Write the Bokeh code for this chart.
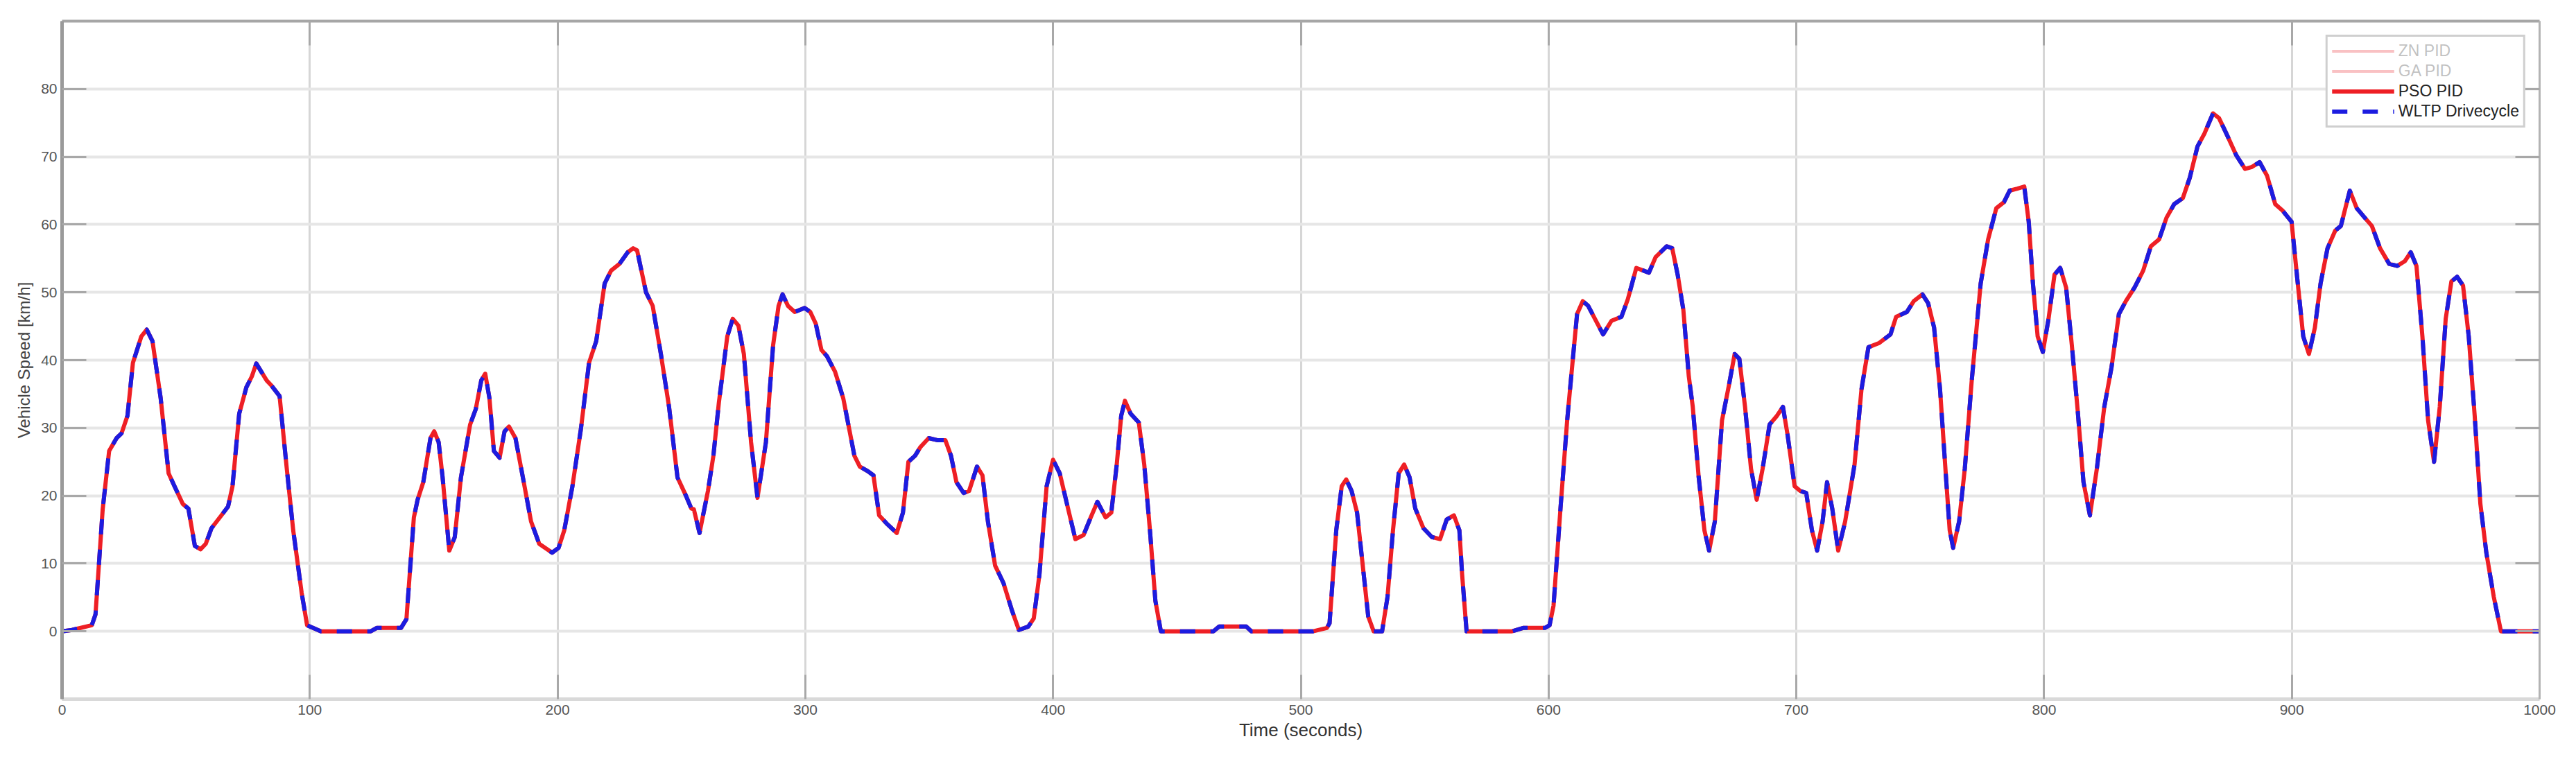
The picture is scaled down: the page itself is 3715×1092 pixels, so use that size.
from bokeh.plotting import figure
from bokeh.models import (ColumnDataSource, LinearAxis, FixedTicker, Range1d,
                          Legend, LegendItem)
from bokeh.embed import file_html
from bokeh.resources import INLINE

# ---------------- data ----------------
x_ticks = list(range(0, 1001, 100))
y_ticks = list(range(0, 81, 10))
series_names = ["ZN PID", "GA PID", "PSO PID", "WLTP Drivecycle"]

time_s = [
    0, 4, 12, 13.5, 16.4, 19, 22, 24, 26.4, 28.6, 32, 34.2, 36.5, 39.8, 43, 45.4, 48.7, 51,
    53.6, 55.9, 58, 60.3, 64.3, 67, 68.8, 71.5, 74.4, 76.6, 78.4, 80.4, 82.6, 84.4, 87.8,
    90.7, 93.3, 96.7, 98.9, 104.5, 124.6, 127, 136.8, 139, 142, 143.5, 145.8, 148.7, 150.2,
    152, 153.6, 156.3, 158.5, 161, 164.7, 167, 169.2, 170.8, 172.5, 174.3, 176.6, 178.6,
    180.4, 183, 186, 189.3, 192.6, 197.8, 200.4, 202.7, 206, 209.4, 212.7, 215.6, 219,
    221.6, 225, 228.3, 230.5, 232.1, 235.7, 238.4, 241.7, 245, 248.4, 251.7, 254, 255,
    257.3, 260.7, 262.9, 265.1, 268.5, 270.7, 273, 275.2, 278.1, 280.7, 284.1, 287, 289.2,
    290.8, 293, 295.7, 299.7, 302, 304.2, 306.5, 308.7, 312, 315.3, 319.8, 322, 325.3,
    327.5, 329.8, 333.1, 336.9, 339.4, 341.6, 344.3, 346.5, 349.8, 353.2, 356.5, 358.8,
    361, 363.9, 366.1, 369.3, 371.5, 373.7, 376.6, 380, 383.3, 386.2, 390, 392.2, 394.5,
    397.4, 400, 402.7, 405.6, 409, 412.3, 415.2, 417.9, 421.2, 423.5, 425.7, 427.5, 429,
    431.3, 434.6, 436.8, 439.1, 441.3, 443.5, 464.7, 467, 478, 480, 505, 510.5, 511.6,
    514.3, 516.5, 518.3, 520.5, 522.7, 525, 527.2, 529.4, 532.8, 535, 537.2, 539.5, 541.7,
    543.9, 546.2, 549.5, 552.9, 556.2, 558.9, 561.8, 564, 565.1, 566.9, 585.2, 589.7,
    598.6, 600.4, 602, 604.8, 607.5, 609.8, 611.5, 613.8, 616, 618.7, 622, 625.4, 629.4,
    632, 635.4, 638.3, 640.5, 643.2, 647.7, 649.9, 652.1, 654.4, 656.6, 658.2, 660.6,
    662.9, 664.8, 667.1, 670, 672.8, 675.1, 677, 679.3, 681.7, 684, 686.4, 689.2, 692.2,
    694.6, 696.5, 699.3, 701.6, 704, 706.3, 708.4, 710.6, 712.4, 714.5, 716.9, 719.7,
    723.5, 726.3, 729.1, 733.3, 738, 740.3, 744.6, 747.4, 750.9, 753.2, 755.6, 758, 760.3,
    761.9, 763.3, 765.7, 768, 770.8, 774.4, 777.4, 780.7, 783.8, 786.1, 789.2, 792, 793.8,
    795.5, 797.4, 799.5, 801.8, 804.2, 806.5, 808.9, 811.2, 813.6, 815.9, 818.5, 821.3,
    824.3, 827.2, 830.2, 833, 836.5, 840, 843.1, 846.4, 849.4, 852.5, 856, 858.8, 861.9,
    864.7, 868.2, 870.6, 873.6, 877.6, 881.1, 883.9, 887, 890, 893.3, 896.4, 899.9, 902.2,
    904.6, 906.9, 909.3, 911.6, 914.4, 917.5, 919.8, 923.4, 926.2, 929.2, 932.3, 935.6,
    939.3, 942.6, 945.6, 948, 950.3, 952.7, 955, 957.4, 959.7, 962.1, 964.4, 966.7, 969.1,
    971.4, 973.8, 976.1, 978.5, 981.5, 984.4, 1000,
]

wltp_kmh = [
    0, 0.2, 0.9, 2.5, 18, 26.6, 28.5, 29.2, 31.8, 39.6, 43.5, 44.5, 42.8, 34.4, 23.3, 21.4,
    18.8, 18.1, 12.6, 12.1, 12.9, 15.2, 17.1, 18.4, 21.4, 32.1, 36, 37.6, 39.5, 38.3, 37,
    36.3, 34.7, 24, 14.9, 5.7, 0.9, 0, 0, 0.5, 0.5, 1.8, 16.8, 19.4, 22, 28.5, 29.5, 27.9,
    22.7, 11.9, 13.9, 22.7, 30.5, 32.8, 37, 38, 34.4, 26.6, 25.6, 29.5, 30.2, 28.5, 22.7,
    16.2, 12.9, 11.6, 12.3, 14.9, 21.4, 29.8, 39.6, 42.8, 51.3, 53.2, 54.2, 55.9, 56.5,
    56.2, 50, 48, 40.9, 33.1, 22.7, 20.1, 18.1, 18, 14.5, 20.7, 25.9, 33.7, 43.5, 46.1,
    45.1, 40.9, 27.9, 19.7, 27.9, 42.2, 48, 49.7, 48, 47.1, 47.7, 47.1, 45.4, 41.5, 40.6,
    38.3, 34.4, 25.9, 24.3, 23.6, 23, 17.1, 15.8, 14.5, 17.5, 25, 25.9, 27.2, 28.5, 28.2,
    28.2, 25.9, 22, 20.4, 20.7, 24.3, 23, 16.2, 9.7, 7.1, 3.2, 0.2, 0.7, 1.9, 8.4, 21.4,
    25.3, 23.3, 18.8, 13.6, 14.2, 16.8, 19.1, 16.8, 17.5, 24.6, 31.8, 34, 32.1, 30.8, 24.6,
    14.9, 4.5, 0, 0, 0.7, 0.7, 0, 0, 0.5, 1.2, 14.9, 21.4, 22.4, 20.7, 17.5, 9.7, 2.2, 0,
    0, 5.1, 14.9, 23.3, 24.6, 22.7, 18.1, 15.2, 13.9, 13.6, 16.5, 17.1, 14.9, 8.4, 0, 0,
    0.5, 0.5, 0.9, 3.8, 18.1, 31.1, 40.2, 46.8, 48.7, 48, 46.1, 43.8, 45.8, 46.4, 49, 53.6,
    53.2, 52.9, 55.2, 56.8, 56.5, 52.6, 47.4, 37.6, 33.1, 22.7, 14.9, 11.9, 16.2, 31.1,
    36.3, 40.9, 40.2, 33.1, 24, 19.4, 24, 30.5, 31.8, 33.1, 28.9, 21.4, 20.7, 20.4, 14.9,
    11.9, 16.2, 22, 18.1, 11.9, 16.2, 24.6, 35.7, 41.9, 42.5, 43.8, 46.4, 47.1, 48.7, 49.7,
    48.4, 44.8, 35.7, 23.3, 14.9, 12.3, 16.2, 24, 37, 51.3, 57.8, 62.4, 63.3, 65, 65.3,
    65.6, 60.4, 51.3, 43.5, 41.2, 46.1, 52.6, 53.6, 50.7, 42.2, 32.4, 22, 17.1, 24, 33.1,
    38.9, 46.8, 48.7, 50.7, 53.2, 56.8, 57.8, 61, 63, 63.9, 66.9, 71.5, 73.4, 76.4, 75.7,
    73.4, 70.2, 68.2, 68.5, 69.2, 67.2, 63, 62, 60.4, 52, 43.5, 40.9, 44.8, 51.3, 56.5,
    59.1, 59.8, 65, 62.4, 61.1, 59.8, 56.5, 54.2, 53.9, 54.6, 55.9, 53.9, 43.5, 31.1, 25,
    33.1, 46.1, 51.6, 52.3, 51, 43.5, 31.8, 18.8, 11.6, 5.1, 0, 0,
]

# the PSO-tuned controller output lies on top of the drive cycle in the picture
pso_kmh = list(wltp_kmh)

# ---------------- figure ----------------
FONT = "Liberation Sans"

p = figure(frame_width=3573, frame_height=978,
           x_range=Range1d(0, 1000), y_range=Range1d(-10, 90),
           output_backend="svg", toolbar_location=None,
           min_border_left=89, min_border_top=30, min_border_right=40,
           min_border_bottom=76,
           background_fill_color="white", border_fill_color="white")
p.outline_line_color = None

# grids
p.xgrid.ticker = FixedTicker(ticks=x_ticks)
p.xgrid.grid_line_color = "#d6d6d6"
p.xgrid.grid_line_width = 3
p.ygrid.ticker = FixedTicker(ticks=y_ticks)
p.ygrid.grid_line_color = "#e6e6e6"
p.ygrid.grid_line_width = 4

# bottom axis
xa = p.xaxis[0]
xa.ticker = FixedTicker(ticks=x_ticks)
xa.axis_label = "Time (seconds)"
xa.axis_line_color = "#d9d9d9"
xa.axis_line_width = 5
xa.major_tick_in = 35
xa.major_tick_out = 0
xa.major_tick_line_color = "#a8a8a8"
xa.major_tick_line_width = 3
xa.minor_tick_line_color = None
xa.major_label_text_font = FONT
xa.major_label_text_font_size = "21px"
xa.major_label_text_color = "#555555"
xa.major_label_standoff = 8
xa.axis_label_text_font = FONT
xa.axis_label_text_font_size = "26px"
xa.axis_label_text_font_style = "normal"
xa.axis_label_text_color = "#333333"
xa.axis_label_standoff = 4

# left axis
ya = p.yaxis[0]
ya.ticker = FixedTicker(ticks=y_ticks)
ya.axis_label = "Vehicle Speed [km/h]"
ya.axis_line_color = "#9a9a9a"
ya.axis_line_width = 5
ya.major_tick_in = 35
ya.major_tick_out = 0
ya.major_tick_line_color = "#a8a8a8"
ya.major_tick_line_width = 3
ya.minor_tick_line_color = None
ya.major_label_text_font = FONT
ya.major_label_text_font_size = "21px"
ya.major_label_text_color = "#555555"
ya.major_label_standoff = 7
ya.axis_label_text_font = FONT
ya.axis_label_text_font_size = "24px"
ya.axis_label_text_font_style = "normal"
ya.axis_label_text_color = "#444444"
ya.axis_label_standoff = 8

# top and right frame axes (ticks only, no labels)
def frame_axis(ticks, color, width):
    ax = LinearAxis(ticker=FixedTicker(ticks=ticks))
    ax.axis_line_color = color
    ax.axis_line_width = width
    ax.major_tick_in = 35
    ax.major_tick_out = 0
    ax.major_tick_line_color = "#a8a8a8"
    ax.major_tick_line_width = 3
    ax.minor_tick_line_color = None
    ax.major_label_text_font_size = "0px"
    ax.major_label_text_color = None
    ax.major_label_standoff = 0
    return ax

p.add_layout(frame_axis(x_ticks, "#a6a6a6", 4), "above")
p.add_layout(frame_axis(y_ticks, "#b3b3b3", 3), "right")

# ---------------- lines ----------------
src = ColumnDataSource(dict(t=time_s, pso=pso_kmh, wltp=wltp_kmh))

zn = p.line("t", "pso", source=src, line_color="#e8202a", line_width=4, visible=False)
ga = p.line("t", "pso", source=src, line_color="#e8202a", line_width=4, visible=False)
pso = p.line("t", "pso", source=src, line_color="#ee1f25", line_width=6,
             line_join="round")
wl = p.line("t", "wltp", source=src, line_color="#1c1ce0", line_width=6,
            line_dash="22 22", line_join="round")

legend = Legend(items=[LegendItem(label=series_names[0], renderers=[zn]),
                       LegendItem(label=series_names[1], renderers=[ga]),
                       LegendItem(label=series_names[2], renderers=[pso]),
                       LegendItem(label=series_names[3], renderers=[wl])],
                location="top_right", click_policy="hide")
legend.margin = 20
legend.padding = 6
legend.spacing = 0
legend.glyph_width = 90
legend.glyph_height = 29
legend.label_height = 29
legend.label_standoff = 6
legend.label_text_font = FONT
legend.label_text_font_size = "23px"
legend.label_text_color = "#222222"
legend.border_line_color = "#a0a0a0"
legend.border_line_width = 3
legend.background_fill_color = "white"
legend.background_fill_alpha = 1.0
legend.inactive_fill_color = "white"
legend.inactive_fill_alpha = 0.72
p.add_layout(legend)

open("out.html", "w").write(file_html(p, INLINE))
